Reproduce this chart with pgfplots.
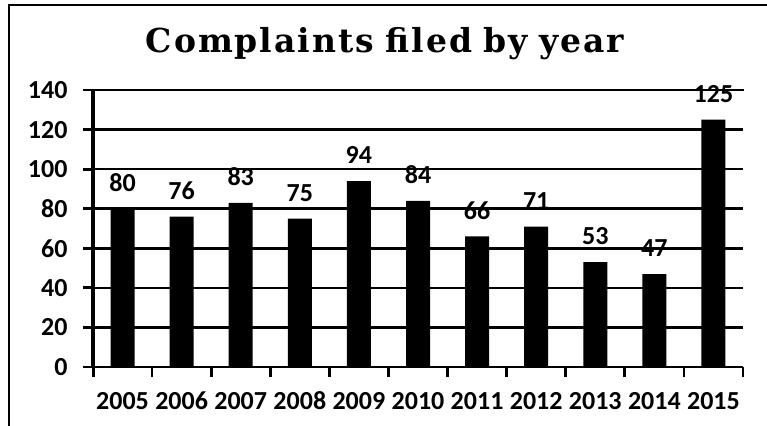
\documentclass[border=0pt]{standalone}
\usepackage{pgfplots}
\pgfplotsset{compat=1.18}
\usepackage{fontspec}
\setmainfont{Carlito}
\newfontfamily\titlefont[LetterSpace=6, WordSpace=0.85]{DejaVu Serif}

\pgfplotsset{/pgf/number format/assume math mode=true}

\begin{document}
\begin{tikzpicture}
\useasboundingbox (-93pt,-58pt) rectangle (674pt,367pt);
\begin{axis}[
  scale only axis,
  width=650pt, height=277pt,
  xmin=-0.5, xmax=10.5,
  ymin=0, ymax=140,
  clip=false,
  axis lines=left,
  axis line style={-, line width=2.6pt, black},
  every outer y axis line/.append style={line width=3pt},
  ybar, bar width=24pt,
  ytick distance=20,
  ymajorgrids,
  major grid style={line width=2.6pt, black},
  xtick={-0.5,0.5,...,10.5},
  x tick label as interval,
  xticklabels={2005,2006,2007,2008,2009,2010,2011,2012,2013,2014,2015},
  tick align=outside,
  major tick length=10pt,
  every tick/.style={black, line width=2.8pt},
  yticklabel style={font=\fontsize{26}{28}\selectfont\bfseries, xshift=-12pt},
  xticklabel style={font=\fontsize{26}{28}\selectfont\bfseries, anchor=base, yshift=-32pt},
  nodes near coords,
  nodes near coords style={font=\fontsize{26}{28}\selectfont\bfseries, inner sep=0pt, yshift=17pt},
]
\addplot[fill=black, draw=none] coordinates {
  (0,80) (1,76) (2,83) (3,75) (4,94) (5,84) (6,66) (7,71) (8,53) (9,47) (10,125)
};
\end{axis}
% top gridline and left axis line drawn at full width
\draw[line width=2.6pt] (-10pt,277pt) -- (651pt,277pt);
\draw[line width=3pt] (0,-10pt) -- (0,278pt);
% frame of the original picture (left and top edges)
\draw[line width=2pt] (-84pt,-70pt) -- (-84pt,362pt) -- (690pt,362pt);
\node[font=\titlefont\fontsize{33}{36}\selectfont\bfseries, anchor=base] at (292pt,314pt) {Complaints filed by year};
\end{tikzpicture}
\end{document}
